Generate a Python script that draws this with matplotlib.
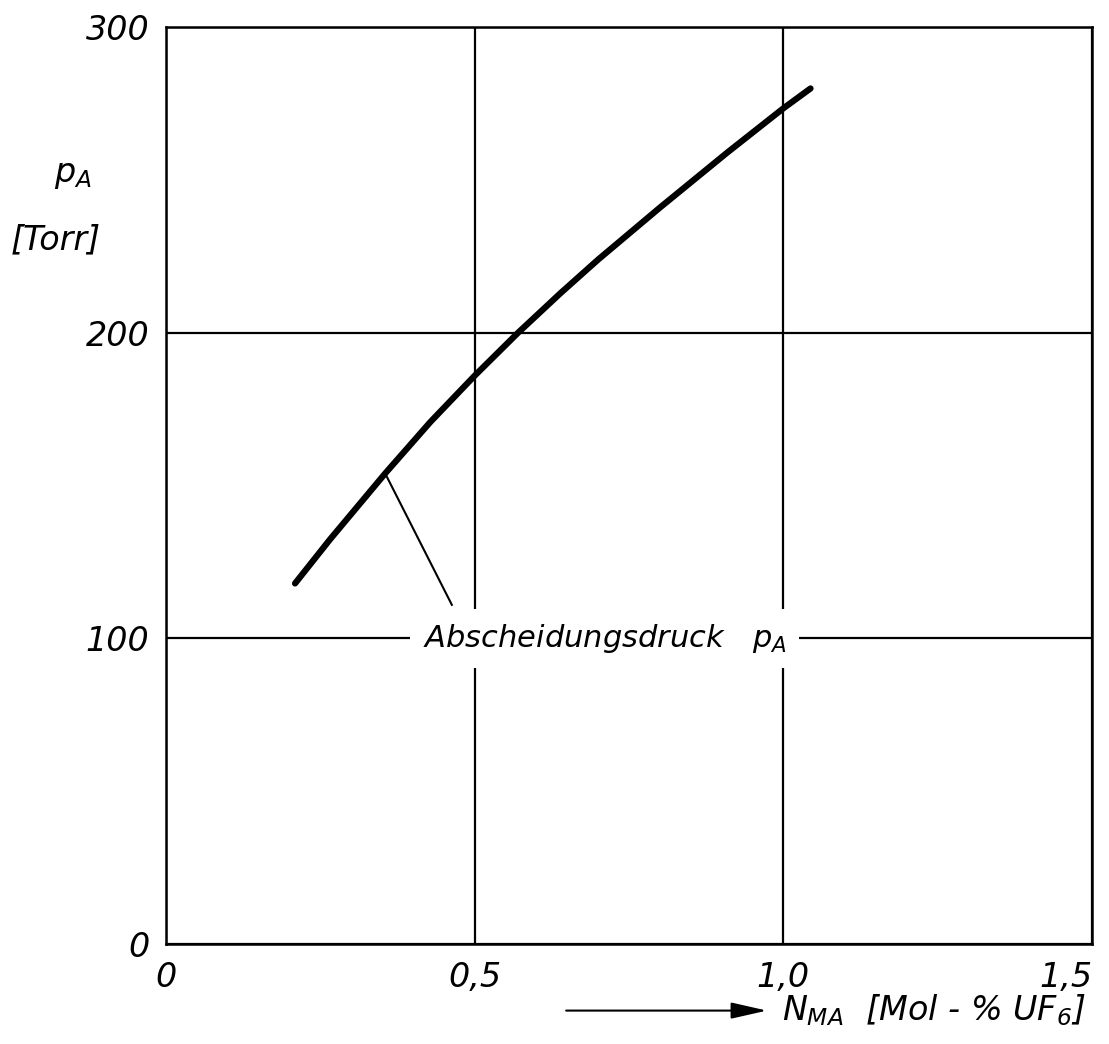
import matplotlib
matplotlib.use('Agg')
import matplotlib.pyplot as plt
from matplotlib.patches import FancyArrowPatch

n_ma = [0.209, 0.266, 0.355, 0.428, 0.50, 0.57, 0.639, 0.70, 0.80, 0.909, 1.0, 1.044]
p_a = [118, 132.5, 154, 170.8, 186, 200, 213, 224, 241, 259, 273.5, 280]

x_ticks = [0, 0.5, 1.0, 1.5]
x_labels = ['0', '0,5', '1,0', '1,5']
y_ticks = [0, 100, 200, 300]
y_labels = ['0', '100', '200', '300']


def main():
    plt.rcParams['font.family'] = 'DejaVu Sans'
    plt.rcParams['font.style'] = 'italic'
    plt.rcParams['mathtext.fontset'] = 'dejavusans'

    fig = plt.figure(figsize=(11.09, 10.44), dpi=100)
    ax = fig.add_axes([0.1497, 0.0958, 0.835, 0.878])

    ax.set_xlim(0, 1.5)
    ax.set_ylim(0, 300)

    # grid
    ax.set_xticks(x_ticks)
    ax.set_xticklabels(x_labels, fontsize=24, style='italic')
    ax.set_yticks(y_ticks)
    ax.set_yticklabels(y_labels, fontsize=24, style='italic')
    ax.get_xticklabels()[-1].set_ha('right')
    ax.tick_params(axis='both', which='major', length=0, pad=12)
    ax.set_xticks([0.5, 1.0], minor=True)
    ax.set_yticks([100, 200], minor=True)
    ax.tick_params(axis='both', which='minor', length=7, width=1.6, direction='out')
    ax.grid(True, which='major', color='black', lw=1.6)
    for sp in ax.spines.values():
        sp.set_linewidth(1.8)

    # curve
    ax.plot(n_ma, p_a, color='black', lw=4.5, solid_capstyle='round',
            solid_joinstyle='round', zorder=3)

    # annotation
    ax.text(0.71, 100, 'Abscheidungsdruck   $p_A$', fontsize=22,
            ha='center', va='center', zorder=4,
            bbox=dict(boxstyle='square,pad=0.42', fc='white', ec='none'))
    ax.plot([0.355, 0.463], [154, 111], color='black', lw=1.5, zorder=5)

    # axis labels
    fig.text(0.066, 0.833, '$p_A$', fontsize=24, ha='center', va='center')
    fig.text(0.05, 0.770, '[Torr]', fontsize=24, ha='center', va='center')
    fig.text(0.705, 0.032, '$N_{MA}$  [Mol - % UF$_6$]', fontsize=24,
             ha='left', va='center')
    fig.add_artist(FancyArrowPatch(
        (0.508, 0.032), (0.694, 0.032), transform=fig.transFigure,
        arrowstyle='-|>,head_length=1.1,head_width=0.25', mutation_scale=20,
        lw=1.5, color='black'))

    plt.savefig('out.png', dpi=100)


if __name__ == '__main__':
    main()
